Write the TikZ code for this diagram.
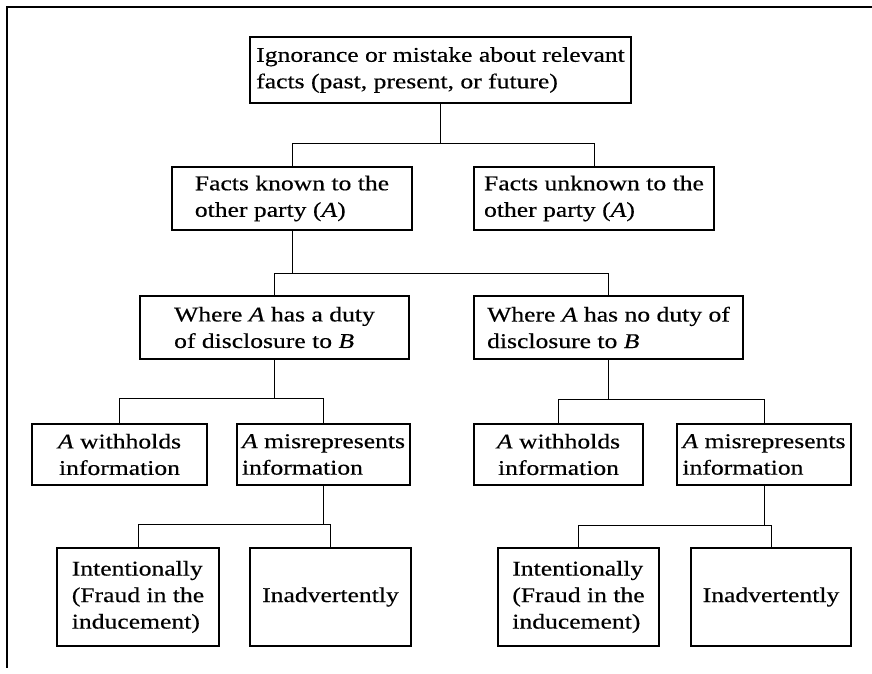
\documentclass[tikz,border=0pt]{standalone}
\usepackage{fontspec}
\setmainfont[FakeStretch=1.22, FakeBold=0.4]{Liberation Serif}
\begin{document}
\begin{tikzpicture}[x=1pt,y=-1pt,
  box/.style={draw, line width=1.2pt, align=left, inner sep=0pt,
    font=\fontsize{21}{26.5}\selectfont},
  sz/.style 2 args={minimum width=#1pt, minimum height=#2pt},
  conn/.style={line width=1pt},
  frame/.style={line width=1.2pt}]
\useasboundingbox (0,0) rectangle (872,674);
\fill[white] (0,0) rectangle (872,674);
\draw[frame] (872,7) -- (7,7) -- (7,668);

\node[box, sz={381}{66}] (top) at (440.5,70) {Ignorance or mistake about relevant\\facts (past, present, or future)};
\node[box, sz={240}{63}] (known) at (292,198.5) {Facts known to the\\other party (\textit{A})};
\node[box, sz={240}{63}] (unknown) at (594,198.5) {Facts unknown to the\\other party (\textit{A})};
\node[box, sz={269}{63}] (duty) at (274.5,327.5) {Where \textit{A} has a duty\\of disclosure to \textit{B}};
\node[box, sz={269}{63}] (noduty) at (608.5,327.5) {Where \textit{A} has no duty of\\disclosure to \textit{B}};
\node[box, sz={175}{61}, align=center] (w1) at (119.5,454.5) {\textit{A} withholds\\information};
\node[box, sz={173}{61}] (m1) at (323.5,454.5) {\textit{A} misrepresents\\information};
\node[box, sz={169}{61}, align=center] (w2) at (558.5,454.5) {\textit{A} withholds\\information};
\node[box, sz={174}{61}] (m2) at (764,454.5) {\textit{A} misrepresents\\information};
\node[box, sz={162}{98}] (i1) at (138,597) {Intentionally\\(Fraud in the\\inducement)};
\node[box, sz={161}{98}] (a1) at (330.5,597) {Inadvertently};
\node[box, sz={161}{98}] (i2) at (578.5,597) {Intentionally\\(Fraud in the\\inducement)};
\node[box, sz={160}{98}] (a2) at (771,597) {Inadvertently};

% top -> row 2
\draw[conn] (top.south) -- (top.south |- 0,143);
\draw[conn] (known.north) -- (known.north |- 0,143) -| (unknown.north);
% known -> row 3
\draw[conn] (known.south) -- (known.south |- 0,273);
\draw[conn] (duty.north) -- (duty.north |- 0,273) -| (noduty.north);
% duty -> row 4
\draw[conn] (duty.south) -- (duty.south |- 0,398);
\draw[conn] (w1.north) -- (w1.north |- 0,398) -| (m1.north);
% noduty -> row 4
\draw[conn] (noduty.south) -- (noduty.south |- 0,399);
\draw[conn] (w2.north) -- (w2.north |- 0,399) -| (m2.north);
% m1 -> row 5
\draw[conn] (m1.south) -- (m1.south |- 0,524);
\draw[conn] (i1.north) -- (i1.north |- 0,524) -| (a1.north);
% m2 -> row 5
\draw[conn] (m2.south) -- (m2.south |- 0,525);
\draw[conn] (i2.north) -- (i2.north |- 0,525) -| (a2.north);
\end{tikzpicture}
\end{document}
